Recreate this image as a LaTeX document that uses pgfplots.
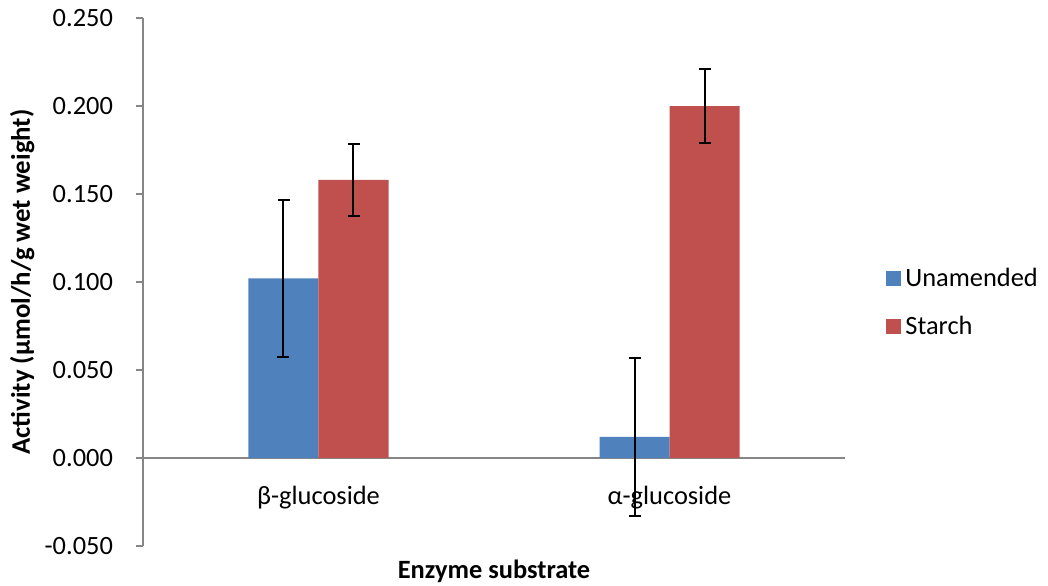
\documentclass[border=0pt]{standalone}
\usepackage{pgfplots}
\pgfplotsset{compat=1.18}
\usepackage{fontspec}
\setmainfont{Carlito}
\definecolor{exblue}{HTML}{4F81BD}
\definecolor{exred}{HTML}{C0504D}
\definecolor{axgray}{HTML}{868686}

\begin{document}
\begin{tikzpicture}
\useasboundingbox (-71.5pt,-19.5pt) rectangle (452.5pt,273pt);
\begin{axis}[
  at={(0,0)}, anchor=south west,
  scale only axis,
  width=351pt, height=264pt,
  ybar=0pt, bar width=35pt,
  xmin=-0.5, xmax=1.5,
  ymin=-0.05, ymax=0.25,
  axis y line*=left,
  axis x line*=middle,
  axis line style={axgray, line width=0.8pt},
  xtick={0,1},
  xticklabels={β-glucoside, α-glucoside},
  xtick style={draw=none},
  xticklabel style={font=\fontsize{13.2}{15}\selectfont, anchor=north, yshift=-7pt},
  ytick={-0.05,0,0.05,0.1,0.15,0.2,0.25},
  ytick style={axgray, line width=0.8pt},
  tick align=outside,
  major tick length=3.5pt,
  /pgf/number format/assume math mode=true,
  /pgf/number format/fixed,
  /pgf/number format/fixed zerofill,
  /pgf/number format/precision=3,
  yticklabel style={font=\fontsize{13.2}{15}\selectfont, xshift=-8pt},
  scaled y ticks=false,
  xlabel={\textbf{Enzyme substrate}},
  xlabel style={font=\fontsize{13.2}{15}\selectfont, at={(axis description cs:0.5,-0.048)}, anchor=center},
  ylabel={\textbf{Activity (µmol/h/g wet weight)}},
  ylabel style={font=\fontsize{13.4}{15}\selectfont, at={(axis description cs:-0.172,0.5)}, anchor=center},
  legend style={at={(axis description cs:1.0584,0.461)}, anchor=west, draw=none, fill=none,
    font=\fontsize{13.2}{15}\selectfont, row sep=9.5pt, inner sep=0pt},
  legend cell align=left,
  legend image code/.code={\fill[#1] (0pt,-3.75pt) rectangle (7.5pt,3.75pt);},
  error bars/error bar style={black, line width=1pt},
  error bars/error mark options={black, line width=1pt, mark size=3pt, rotate=90},
]
\addplot[fill=exblue, draw=none, error bars/.cd, y dir=both, y explicit]
  table[x=x, y=y, y error=e] {
  x y     e
  0 0.102 0.0448
  1 0.012 0.0448
};
\addplot[fill=exred, draw=none, error bars/.cd, y dir=both, y explicit]
  table[x=x, y=y, y error=e] {
  x y     e
  0 0.158 0.0205
  1 0.200 0.0208
};
\legend{Unamended, Starch}
\end{axis}
\end{tikzpicture}
\end{document}
